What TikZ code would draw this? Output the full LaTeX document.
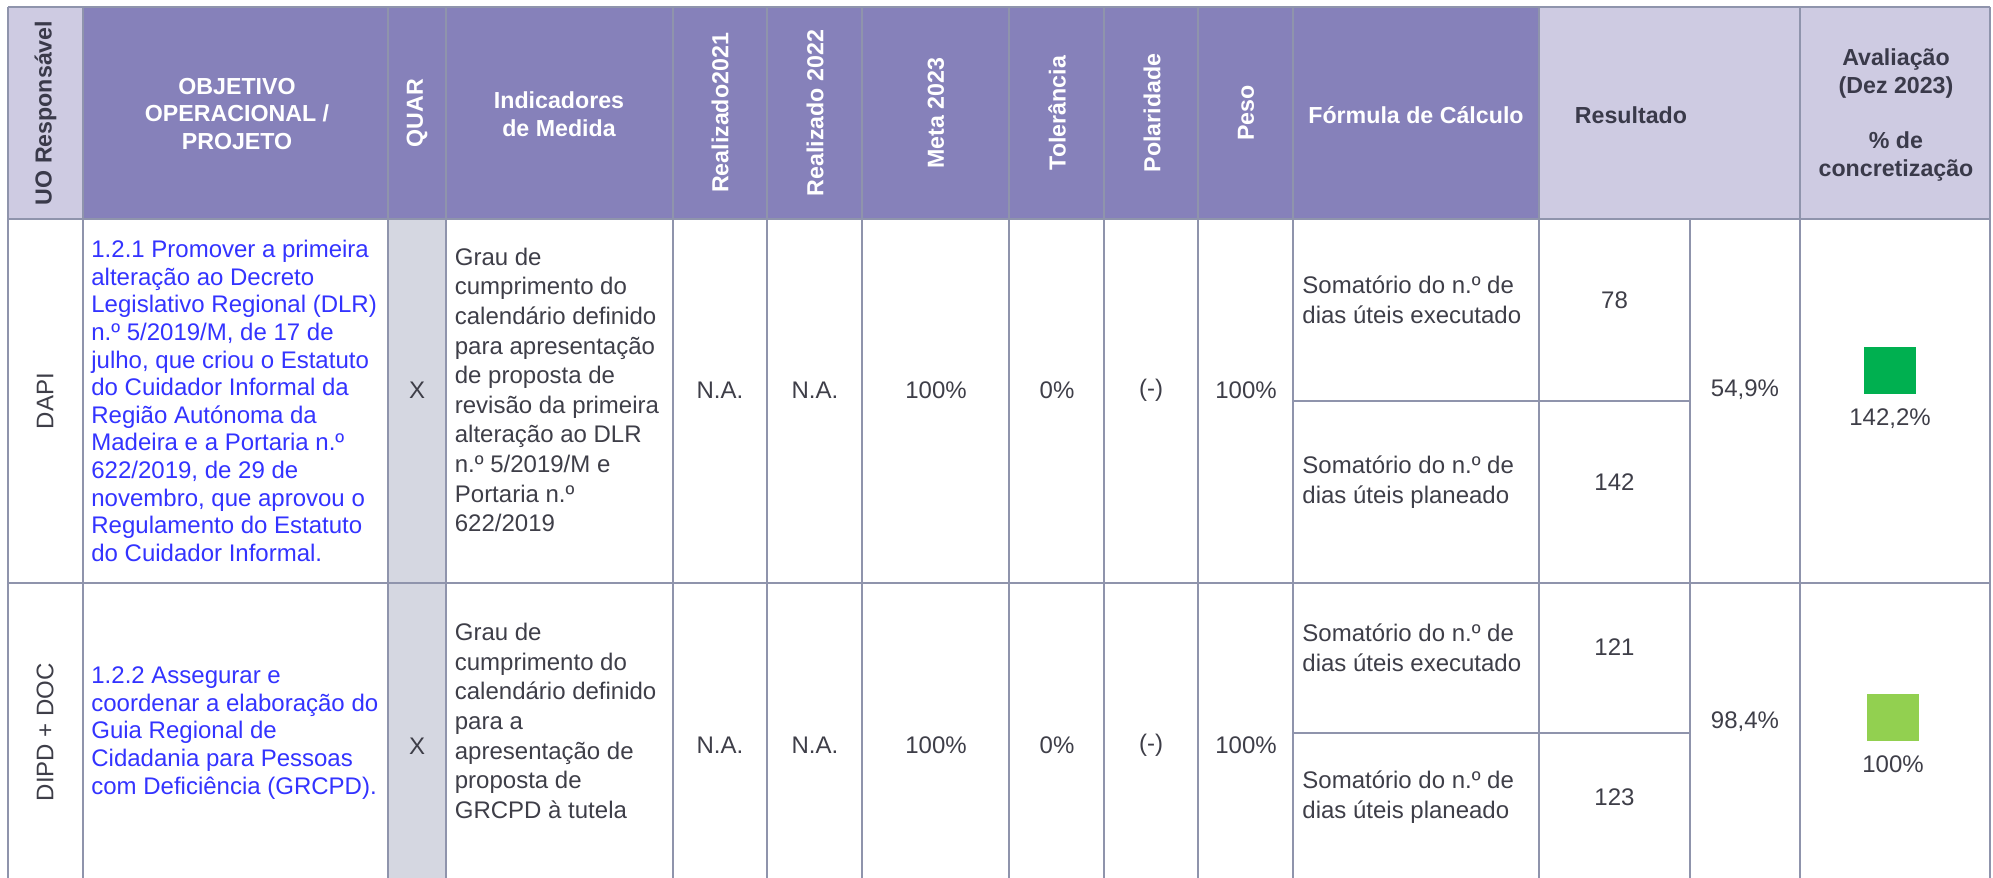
\documentclass[tikz,border=0pt]{standalone}
\usepackage{fontspec}
\setmainfont{Liberation Sans}
\definecolor{hdrpurple}{RGB}{134,129,186}
\definecolor{hdrlilac}{RGB}{206,203,226}
\definecolor{quargray}{RGB}{213,215,225}
\definecolor{gridgray}{RGB}{143,148,172}
\definecolor{objblue}{RGB}{51,51,255}
\definecolor{txtgray}{RGB}{62,62,72}
\definecolor{txtdark}{RGB}{58,58,74}
\definecolor{okgreen}{RGB}{0,176,80}
\definecolor{litegreen}{RGB}{146,208,80}
\usetikzlibrary{positioning}
\newcommand{\cellfont}{\fontsize{12}{13.8}\selectfont}
\newcommand{\headfont}{\fontsize{11.6}{13.8}\selectfont\bfseries}

\begin{document}
\begin{tikzpicture}[x=0.5pt, y=-0.5pt,
  tablerule/.style={draw=gridgray, line width=1.3pt},
  headlight/.style={font=\headfont, text=white, align=center, inner sep=0pt},
  headdark/.style={font=\headfont, text=txtdark, align=center, inner sep=0pt},
  cellval/.style={font=\cellfont, text=txtgray, align=center, inner sep=0pt},
  cellleft/.style={font=\cellfont, text=txtgray, align=left, anchor=west, inner sep=0pt},
  objective/.style={cellleft, text=objblue},
  indtext/.style={cellleft, font=\fontsize{12}{14.8}\selectfont},
  formtext/.style={cellleft, font=\fontsize{12}{15}\selectfont},
  evalbox/.style={minimum width=26pt, minimum height=23.5pt, inner sep=0pt}]

  \useasboundingbox (0,0) rectangle (1993,878);
  \clip (0,0) rectangle (1993,878);

  % fills
  \fill[hdrlilac] (8,7) rectangle (83,219);
  \fill[hdrpurple] (83,7) rectangle (1539,219);
  \fill[hdrlilac] (1539,7) rectangle (1990,219);
  \fill[quargray] (388,219) rectangle (446,883);

  % rules
  \foreach \ry in {7,219,583}
    \draw[tablerule] (8,\ry) -- (1990,\ry);
  \foreach \cx in {8,83,388,446,673,767,862,1009,1104,1198,1293,1539,1800,1990}
    \draw[tablerule] (\cx,7) -- (\cx,883);
  \draw[tablerule] (1690,219) -- (1690,883);
  \draw[tablerule] (1293,401) -- (1690,401);
  \draw[tablerule] (1293,733) -- (1690,733);

  % header
  \node[headdark, rotate=90] (hUO) at (45.5,113) {UO Responsável};
  \node[headlight] (hObj) at (237,114) {OBJETIVO\\OPERACIONAL /\\PROJETO};
  \node[headlight, rotate=90] (hQuar) at (417,113) {QUAR};
  \node[headlight] (hInd) at (559,114) {Indicadores\\de Medida};
  \node[headlight, rotate=90] (hR21) at (720,113) {Realizado2021};
  \node[headlight, rotate=90] (hR22) at (815,113) {Realizado 2022};
  \node[headlight, rotate=90] (hMeta) at (936,113) {Meta 2023};
  \node[headlight, rotate=90] (hTol) at (1057,113) {Tolerância};
  \node[headlight, rotate=90] (hPol) at (1152,113) {Polaridade};
  \node[headlight, rotate=90] (hPeso) at (1246,113) {Peso};
  \node[headlight] (hForm) at (1416,115) {Fórmula de Cálculo};
  \node[headdark] (hRes) at (1631,115) {Resultado};
  \node[headdark] (hAval) at (1896,115) {Avaliação\\(Dez 2023)\\[13.8pt]\% de\\concretização};

  % row DAPI
  \node[cellval, rotate=90] (uo1) at (45,401) {DAPI};
  \node[objective] (obj1) at (91,401) {1.2.1 Promover a primeira\\alteração ao Decreto\\Legislativo Regional (DLR)\\n.º 5/2019/M, de 17 de\\julho, que criou o Estatuto\\do Cuidador Informal da\\Região Autónoma da\\Madeira e a Portaria n.º\\622/2019, de 29 de\\novembro, que aprovou o\\Regulamento do Estatuto\\do Cuidador Informal.};
  \node[cellval] (quar1) at (417,390) {X};
  \node[indtext] (ind1) at (454.5,390) {Grau de\\cumprimento do\\calendário definido\\para apresentação\\de proposta de\\revisão da primeira\\alteração ao DLR\\n.º 5/2019/M e\\Portaria n.º\\622/2019};
  \node[cellval] (r21a) at (720,390) {N.A.};
  \node[cellval] (r22a) at (815,390) {N.A.};
  \node[cellval] (meta1) at (936,390) {100\%};
  \node[cellval] (tol1) at (1057,390) {0\%};
  \node[cellval] (pol1) at (1151,390) {(-)};
  \node[cellval] (peso1) at (1246,390) {100\%};
  \node[formtext] (fexe1) at (1302,300) {Somatório do n.º de\\dias úteis executado};
  \node[formtext] (fpla1) at (1302,482) {Somatório do n.º de\\dias úteis planeado};
  \node[cellval] (vexe1) at (1614.5,300) {78};
  \node[cellval] (vpla1) at (1614.5,482) {142};
  \node[cellval] (res1) at (1745,390) {54,9\%};
  \node[evalbox, fill=okgreen] (sq1) at (1890,370.5) {};
  \node[cellval, below=7pt of sq1] (aval1) {142,2\%};

  % row DIPD + DOC
  \node[cellval, rotate=90] (uo2) at (45,732) {DIPD + DOC};
  \node[objective] (obj2) at (91,733) {1.2.2 Assegurar e\\coordenar a elaboração do\\Guia Regional de\\Cidadania para Pessoas\\com Deficiência (GRCPD).};
  \node[cellval] (quar2) at (417,746) {X};
  \node[indtext] (ind2) at (454.5,721) {Grau de\\cumprimento do\\calendário definido\\para a\\apresentação de\\proposta de\\GRCPD à tutela};
  \node[cellval] (r21b) at (720,745) {N.A.};
  \node[cellval] (r22b) at (815,745) {N.A.};
  \node[cellval] (meta2) at (936,745) {100\%};
  \node[cellval] (tol2) at (1057,745) {0\%};
  \node[cellval] (pol2) at (1151,745) {(-)};
  \node[cellval] (peso2) at (1246,745) {100\%};
  \node[formtext] (fexe2) at (1302,648) {Somatório do n.º de\\dias úteis executado};
  \node[formtext] (fpla2) at (1302,797) {Somatório do n.º de\\dias úteis planeado};
  \node[cellval] (vexe2) at (1614.5,647) {121};
  \node[cellval] (vpla2) at (1614.5,797) {123};
  \node[cellval] (res2) at (1745,722) {98,4\%};
  \node[evalbox, fill=litegreen] (sq2) at (1893,717.5) {};
  \node[cellval, below=7pt of sq2] (aval2) {100\%};

\end{tikzpicture}
\end{document}
